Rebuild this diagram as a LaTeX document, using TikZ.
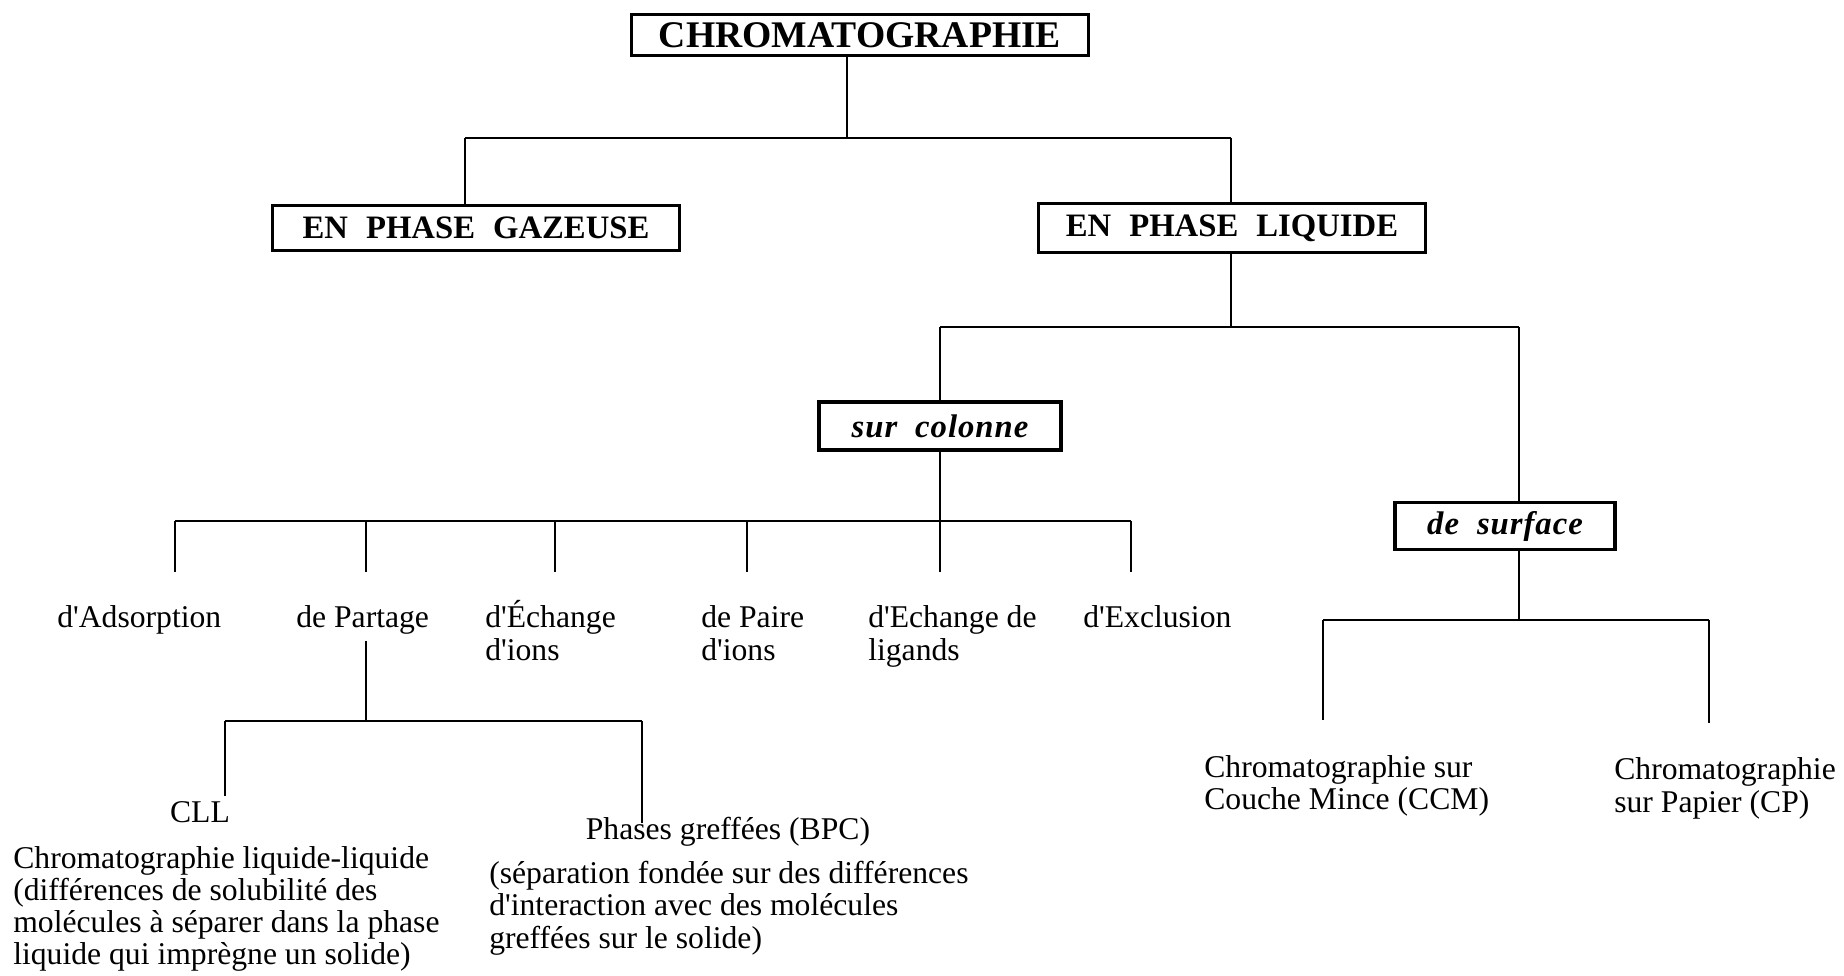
\documentclass[tikz,border=0pt]{standalone}
\usepackage{fontspec}
\setmainfont{Liberation Serif}[Ligatures=TeXOff]
\newfontfamily\espace{Liberation Serif}[Ligatures=TeXOff, LetterSpace=3]
\newcommand\esp{\hspace{0.55em}}
\usepackage{tikz}

\begin{document}
\begin{tikzpicture}[x=0.01cm, y=-0.01cm, line width=0.75pt,
    cadre/.style={draw, line width=0.9pt, inner sep=0pt, font=\bfseries\fontsize{9.3}{11}\selectfont},
    mode/.style={cadre, font=\espace\bfseries\itshape\fontsize{9.3}{11}\selectfont},
    etiq/.style={inner sep=0pt, align=left, anchor=base west, font=\fontsize{9}{9.1}\selectfont}]
    \useasboundingbox (0,0) rectangle (1844,976);
    % racine
    \node[cadre, minimum width=4.56cm, minimum height=0.41cm, font=\bfseries\fontsize{10.7}{12}\selectfont] (chrom) at (860,35) {CHROMATOGRAPHIE};
    % phases
    \node[cadre, minimum width=4.07cm, minimum height=0.45cm] (gaz) at (476,228) {EN\esp PHASE\esp GAZEUSE};
    \node[cadre, minimum width=3.87cm, minimum height=0.49cm] (liq) at (1232,228) {EN\esp PHASE\esp LIQUIDE};
    \coordinate (r0) at (847,138); \coordinate (r1) at (465,138); \coordinate (r2) at (1231,138);
    \draw (chrom.south -| r0) -- (r0);
    \draw (r1) -- (r2);
    \draw (r1) -- (r1 |- gaz.north);
    \draw (r2) -- (r2 |- liq.north);
    % colonne / surface
    \node[mode, minimum width=2.42cm, minimum height=0.48cm] (col) at (940,426) {sur\esp colonne};
    \node[mode, minimum width=2.20cm, minimum height=0.47cm] (surf) at (1505,526) {de\esp surface};
    \coordinate (s0) at (1231,327); \coordinate (s1) at (940,327); \coordinate (s2) at (1519,327);
    \draw (liq.south -| s0) -- (s0);
    \draw (s1) -- (s2);
    \draw (s1) -- (col.north);
    \draw (s2) -- (s2 |- surf.north);
    % sur colonne
    \foreach \x [count=\i] in {175,366,555,747,940,1131} {
        \coordinate (h\i) at (\x,521);
        \coordinate (p\i) at (\x,572);
        \draw (h\i) -- (p\i);
    }
    \draw (h1) -- (h6);
    \draw (col.south) -- (h5);
    \node[etiq] (ads) at (56,628) {d'Adsorption};
    \node[etiq] (part) at (295,628) {de Partage};
    \node[etiq] (echi) at (484,660) {d'Échange\\d'ions};
    \node[etiq] (paire) at (700,660) {de Paire\\d'ions};
    \node[etiq] (lig) at (867,660) {d'Echange de\\ligands};
    \node[etiq] (excl) at (1082,628) {d'Exclusion};
    % de Partage
    \coordinate (q0) at (366,641); \coordinate (q1) at (366,721);
    \coordinate (q2) at (225,721); \coordinate (q3) at (642,721);
    \coordinate (q4) at (225,796); \coordinate (q5) at (642,823);
    \draw (q0) -- (q1);
    \draw (q2) -- (q3);
    \draw (q2) -- (q4);
    \draw (q3) -- (q5);
    \node[etiq, anchor=base] (cll) at (200,822) {CLL};
    \node[etiq] (cllt) at (12,965) {Chromatographie liquide-liquide\\(différences de solubilité des\\molécules à séparer dans la phase\\liquide qui imprègne un solide)};
    \node[etiq, anchor=base] (bpc) at (728,840) {Phases greffées (BPC)};
    \node[etiq] (bpct) at (488,948) {(séparation fondée sur des différences\\d'interaction avec des molécules\\greffées sur le solide)};
    % de surface
    \coordinate (t0) at (1519,620); \coordinate (t1) at (1323,620); \coordinate (t2) at (1709,620);
    \coordinate (t3) at (1323,720); \coordinate (t4) at (1709,723);
    \draw (surf.south -| t0) -- (t0);
    \draw (t1) -- (t2);
    \draw (t1) -- (t3);
    \draw (t2) -- (t4);
    \node[etiq] (ccm) at (1203,810) {Chromatographie sur\\Couche Mince (CCM)};
    \node[etiq] (cp) at (1613,812) {Chromatographie\\sur Papier (CP)};
\end{tikzpicture}
\end{document}
